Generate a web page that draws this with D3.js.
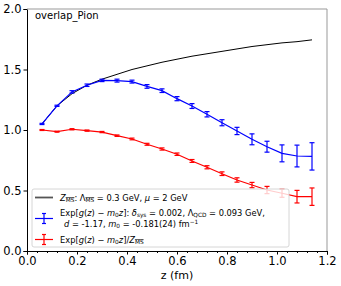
<!DOCTYPE html>
<html>
<head>
<meta charset="utf-8">
<script src="https://d3js.org/d3.v7.min.js"></script>
<style>
  body { margin: 0; background: #fff; }
  text { font-family: "DejaVu Sans", sans-serif; }
  .ol { text-decoration: overline; }
</style>
</head>
<body>
<svg width="341" height="286"></svg>
<script>
var zs = [0.06, 0.12, 0.18, 0.24, 0.30, 0.36, 0.42, 0.48, 0.54, 0.60,
          0.66, 0.72, 0.78, 0.84, 0.90, 0.96, 1.02, 1.08, 1.14];
var zmsVals = [1.05, 1.20, 1.30, 1.37, 1.42, 1.46, 1.50, 1.53, 1.56, 1.585,
               1.61, 1.63, 1.65, 1.67, 1.69, 1.705, 1.72, 1.73, 1.745];
var blueVals = [1.05, 1.20, 1.315, 1.37, 1.41, 1.408, 1.40, 1.36, 1.325, 1.259,
                1.198, 1.13, 1.06, 0.992, 0.923, 0.862, 0.807, 0.785, 0.782];
var blueErr = [0.005, 0.005, 0.01, 0.01, 0.01, 0.012, 0.012, 0.015, 0.015, 0.017,
               0.02, 0.022, 0.025, 0.03, 0.045, 0.045, 0.07, 0.09, 0.113];
var redVals = [1.0, 0.986, 1.006, 0.995, 0.983, 0.953, 0.926, 0.882, 0.843, 0.80,
               0.744, 0.692, 0.639, 0.587, 0.545, 0.504, 0.477, 0.449, 0.449];
var redErr = [0.004, 0.004, 0.005, 0.005, 0.005, 0.006, 0.007, 0.008, 0.009, 0.01,
              0.012, 0.013, 0.015, 0.018, 0.022, 0.03, 0.033, 0.052, 0.072];
var xTicks = [0.0, 0.2, 0.4, 0.6, 0.8, 1.0, 1.2];
var yTicks = [0.0, 0.5, 1.0, 1.5, 2.0];

var svg = d3.select("svg"),
    margin = {top: 9, right: 14, bottom: 35, left: 27},
    width = 341 - margin.left - margin.right,
    height = 286 - margin.top - margin.bottom,
    g = svg.append("g").attr("transform", "translate(" + margin.left + "," + margin.top + ")");

var x = d3.scaleLinear().domain([0, 1.2]).range([0, width]),
    y = d3.scaleLinear().domain([0, 2]).range([height, 0]);

// minor x ticks
g.append("g")
    .attr("transform", "translate(0," + height + ")")
    .call(d3.axisBottom(x).tickValues(d3.range(0, 1.2001, 0.04)).tickSize(2).tickFormat(""))
    .call(function(a) { a.select(".domain").remove(); });

g.append("g")
    .attr("transform", "translate(0," + height + ")")
    .call(d3.axisBottom(x).tickValues(xTicks).tickSize(3.5).tickPadding(2).tickFormat(d3.format(".1f")))
    .call(function(a) { a.selectAll("text").attr("font-size", 11.5).attr("fill", "#000"); });

g.append("g")
    .call(d3.axisLeft(y).tickValues(yTicks).tickSize(3.5).tickPadding(2).tickFormat(d3.format(".1f")))
    .call(function(a) { a.selectAll("text").attr("font-size", 11.5).attr("fill", "#000"); });

// top/right frame
g.append("path")
    .attr("d", "M0,0H" + width + "V" + height)
    .attr("fill", "none").attr("stroke", "#999").attr("stroke-width", 1);

g.append("text").attr("x", 8).attr("y", 10).attr("font-size", 10).text("overlap_Pion");

svg.append("text").attr("x", margin.left + width / 2).attr("y", 279)
    .attr("text-anchor", "middle").attr("font-size", 11).text("z (fm)");

var line = d3.line().x(function(d) { return x(d[0]); }).y(function(d) { return y(d[1]); });

function drawSeries(vals, errs, color) {
  var pts = zs.map(function(z, i) { return [z, vals[i]]; });
  g.append("path").attr("d", line(pts)).attr("fill", "none")
      .attr("stroke", color).attr("stroke-width", 1.2);
  var eb = g.append("g").attr("stroke", color).attr("stroke-width", 1.2);
  zs.forEach(function(z, i) {
    var cx = x(z), y1 = y(vals[i] + errs[i]), y2 = y(vals[i] - errs[i]);
    eb.append("line").attr("x1", cx).attr("x2", cx).attr("y1", y1).attr("y2", y2);
    eb.append("line").attr("x1", cx - 2.5).attr("x2", cx + 2.5).attr("y1", y1).attr("y2", y1);
    eb.append("line").attr("x1", cx - 2.5).attr("x2", cx + 2.5).attr("y1", y2).attr("y2", y2);
  });
}

g.append("path")
    .attr("d", line(zs.map(function(z, i) { return [z, zmsVals[i]]; })))
    .attr("fill", "none").attr("stroke", "#000").attr("stroke-width", 1);
drawSeries(blueVals, blueErr, "#0000ff");
drawSeries(redVals, redErr, "#ff0000");

// legend
var lg = svg.append("g");
lg.append("rect").attr("x", 32).attr("y", 189).attr("width", 257).attr("height", 58)
    .attr("rx", 2).attr("fill", "#fff").attr("fill-opacity", 0.8)
    .attr("stroke", "#ccc").attr("stroke-width", 0.8);

lg.append("line").attr("x1", 35).attr("x2", 53).attr("y1", 197.5).attr("y2", 197.5)
    .attr("stroke", "#555").attr("stroke-width", 1.8);

function handle(cy, color) {
  var h = lg.append("g").attr("stroke", color).attr("stroke-width", 1.2);
  h.append("line").attr("x1", 35).attr("x2", 53).attr("y1", cy).attr("y2", cy);
  h.append("line").attr("x1", 44).attr("x2", 44).attr("y1", cy - 5).attr("y2", cy + 5);
  h.append("line").attr("x1", 42).attr("x2", 46).attr("y1", cy - 5).attr("y2", cy - 5);
  h.append("line").attr("x1", 42).attr("x2", 46).attr("y1", cy + 5).attr("y2", cy + 5);
}
handle(218.5, "#0000ff");
handle(239.5, "#ff0000");

var fs = 8.3, ss = 5.8;
var t1 = lg.append("text").attr("x", 60).attr("y", 200.5).attr("font-size", fs);
t1.append("tspan").attr("font-style", "italic").text("Z");
t1.append("tspan").attr("class", "ol").attr("font-size", ss).attr("dy", 1.5).text("MS");
t1.append("tspan").attr("dy", -1.5).text(": Λ");
t1.append("tspan").attr("class", "ol").attr("font-size", ss).attr("dy", 1.5).text("MS");
t1.append("tspan").attr("dy", -1.5).text(" = 0.3 GeV, ");
t1.append("tspan").attr("font-style", "italic").text("μ");
t1.append("tspan").text(" = 2 GeV");

var t2 = lg.append("text").attr("x", 60).attr("y", 215.5).attr("font-size", fs);
t2.append("tspan").text("Exp[");
t2.append("tspan").attr("font-style", "italic").text("g");
t2.append("tspan").text("(");
t2.append("tspan").attr("font-style", "italic").text("z");
t2.append("tspan").text(") − ");
t2.append("tspan").attr("font-style", "italic").text("m");
t2.append("tspan").attr("font-size", ss).attr("dy", 1.5).text("0");
t2.append("tspan").attr("dy", -1.5).attr("font-style", "italic").text("z");
t2.append("tspan").text("]: ");
t2.append("tspan").attr("font-style", "italic").text("δ");
t2.append("tspan").attr("font-size", ss).attr("dy", 1.5).text("sys");
t2.append("tspan").attr("dy", -1.5).text(" = 0.002, Λ");
t2.append("tspan").attr("font-size", ss).attr("dy", 1.5).text("QCD");
t2.append("tspan").attr("dy", -1.5).text(" = 0.093 GeV,");

var t3 = lg.append("text").attr("x", 64).attr("y", 226.5).attr("font-size", fs);
t3.append("tspan").attr("font-style", "italic").text("d");
t3.append("tspan").text(" = -1.17, ");
t3.append("tspan").attr("font-style", "italic").text("m");
t3.append("tspan").attr("font-size", ss).attr("dy", 1.5).text("0");
t3.append("tspan").attr("dy", -1.5).text(" = -0.181(24) fm");
t3.append("tspan").attr("font-size", ss).attr("dy", -3).text("−1");

var t4 = lg.append("text").attr("x", 60).attr("y", 242.5).attr("font-size", fs);
t4.append("tspan").text("Exp[");
t4.append("tspan").attr("font-style", "italic").text("g");
t4.append("tspan").text("(");
t4.append("tspan").attr("font-style", "italic").text("z");
t4.append("tspan").text(") − ");
t4.append("tspan").attr("font-style", "italic").text("m");
t4.append("tspan").attr("font-size", ss).attr("dy", 1.5).text("0");
t4.append("tspan").attr("dy", -1.5).attr("font-style", "italic").text("z");
t4.append("tspan").text("]/");
t4.append("tspan").attr("font-style", "italic").text("Z");
t4.append("tspan").attr("class", "ol").attr("font-size", ss).attr("dy", 1.5).text("MS");
</script>
</body>
</html>
